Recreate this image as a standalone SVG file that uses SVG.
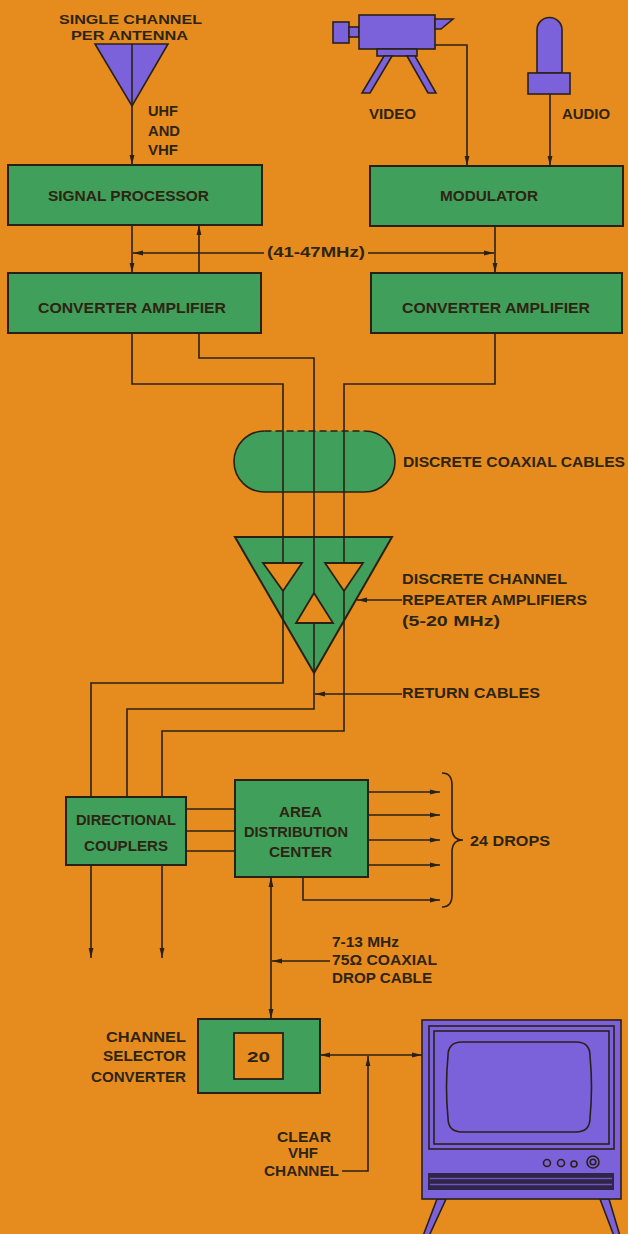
<svg xmlns="http://www.w3.org/2000/svg" width="628" height="1234" viewBox="0 0 628 1234">
  <defs>
    <style>
      .bg { fill: #E68C1E; }
      .box { fill: #409F5A; stroke: #2A2116; stroke-width: 2; }
      .pur { fill: #7C62DA; stroke: #2A2116; stroke-width: 1.6; }
      .hole { fill: #E68C1E; stroke: #2A2116; stroke-width: 1.8; }
      .ln { fill: none; stroke: #2A2116; stroke-width: 1.6; }
      .t { font-family: "Liberation Sans", Arial, sans-serif; font-weight: bold; font-size: 15px; fill: #2E2414; }
      .sm { font-size: 13px; }
      .e { marker-end: url(#ah); }
      .s { marker-start: url(#ah); }
    </style>
    <marker id="ah" viewBox="0 0 10 6" refX="10" refY="3" markerWidth="10" markerHeight="6" markerUnits="userSpaceOnUse" orient="auto-start-reverse">
      <path d="M0,0.6 L10,3 L0,5.4 z" fill="#2A2116"/>
    </marker>
  </defs>

  <rect class="bg" x="0" y="0" width="628" height="1234"/>

  <!-- sources -->
  <g id="antenna">
    <polygon class="pur" points="95,44 168,44 132,106"/>
    <line class="ln" x1="132" y1="44" x2="132" y2="106"/>
    <text class="t sm" x="59" y="24" textLength="143" lengthAdjust="spacingAndGlyphs">SINGLE CHANNEL</text>
    <text class="t sm" x="71" y="40" textLength="117" lengthAdjust="spacingAndGlyphs">PER ANTENNA</text>
    <text class="t" x="148" y="116" textLength="30" lengthAdjust="spacingAndGlyphs">UHF</text>
    <text class="t" x="148" y="136" textLength="32" lengthAdjust="spacingAndGlyphs">AND</text>
    <text class="t" x="148" y="155" textLength="30" lengthAdjust="spacingAndGlyphs">VHF</text>
  </g>

  <g id="camera">
    <rect class="pur" x="333" y="22" width="16" height="21"/>
    <rect class="pur" x="349" y="27" width="10" height="10"/>
    <rect class="pur" x="359" y="15" width="76" height="34"/>
    <polygon class="pur" points="435,19 453,19 441,29 435,29"/>
    <rect class="pur" x="377" y="49" width="40" height="7"/>
    <polygon class="pur" points="384,56 392,56 370,93 362,93"/>
    <polygon class="pur" points="407,56 415,56 436,93 428,93"/>
    <text class="t" x="369" y="119" textLength="47" lengthAdjust="spacingAndGlyphs">VIDEO</text>
  </g>

  <g id="microphone">
    <path class="pur" d="M537 73 V30 A12.5 12.5 0 0 1 562 30 V73 Z"/>
    <rect class="pur" x="528" y="73" width="42" height="21"/>
    <text class="t" x="562" y="119" textLength="48" lengthAdjust="spacingAndGlyphs">AUDIO</text>
  </g>

  <g id="signal-processor">
    <rect class="box" x="8" y="165" width="254" height="60"/>
    <text class="t" x="48" y="201" textLength="161" lengthAdjust="spacingAndGlyphs">SIGNAL PROCESSOR</text>
  </g>

  <g id="modulator">
    <rect class="box" x="370" y="166" width="253" height="60"/>
    <text class="t" x="440" y="201" textLength="98" lengthAdjust="spacingAndGlyphs">MODULATOR</text>
  </g>

  <g id="converter-left">
    <rect class="box" x="8" y="273" width="253" height="60"/>
    <text class="t" x="38" y="313" textLength="188" lengthAdjust="spacingAndGlyphs">CONVERTER AMPLIFIER</text>
  </g>

  <g id="converter-right">
    <rect class="box" x="371" y="273" width="251" height="60"/>
    <text class="t" x="402" y="313" textLength="188" lengthAdjust="spacingAndGlyphs">CONVERTER AMPLIFIER</text>
  </g>

  <g id="coaxial-cables">
    <rect x="234" y="431" width="161" height="61" rx="30.5" fill="#409F5A"/>
    <path class="ln" stroke-width="2" d="M264.5 431 A30.5 30.5 0 0 0 264.5 492 H364.5 A30.5 30.5 0 0 0 364.5 431"/>
    <path class="ln" stroke-width="2" stroke-dasharray="7 4" d="M264.5 431 H364.5"/>
    <text class="t" x="403" y="467" textLength="222" lengthAdjust="spacingAndGlyphs">DISCRETE COAXIAL CABLES</text>
  </g>

  <g id="repeater-amplifiers">
    <polygon class="box" points="235,537 392,537 314,673"/>
    <text class="t" x="402" y="584" textLength="165" lengthAdjust="spacingAndGlyphs">DISCRETE CHANNEL</text>
    <text class="t" x="402" y="605" textLength="185" lengthAdjust="spacingAndGlyphs">REPEATER AMPLIFIERS</text>
    <text class="t" x="402" y="626" textLength="98" lengthAdjust="spacingAndGlyphs">(5-20 MHz)</text>
    <text class="t" x="402" y="698" textLength="138" lengthAdjust="spacingAndGlyphs">RETURN CABLES</text>
  </g>

  <g id="directional-couplers">
    <rect class="box" x="66" y="797" width="120" height="68"/>
    <text class="t" x="76" y="825" textLength="100" lengthAdjust="spacingAndGlyphs">DIRECTIONAL</text>
    <text class="t" x="84" y="851" textLength="84" lengthAdjust="spacingAndGlyphs">COUPLERS</text>
  </g>

  <g id="distribution-center">
    <rect class="box" x="235" y="780" width="133" height="97"/>
    <text class="t" x="279" y="817" textLength="43" lengthAdjust="spacingAndGlyphs">AREA</text>
    <text class="t" x="244" y="837" textLength="104" lengthAdjust="spacingAndGlyphs">DISTRIBUTION</text>
    <text class="t" x="269" y="857" textLength="63" lengthAdjust="spacingAndGlyphs">CENTER</text>
  </g>

  <g id="drops">
    <path class="ln" d="M442 773 Q452 773 452 785 V828 Q452 840 463 840 Q452 840 452 852 V895 Q452 907 442 907"/>
    <text class="t" x="470" y="846" textLength="80" lengthAdjust="spacingAndGlyphs">24 DROPS</text>
  </g>

  <g id="channel-selector">
    <rect class="box" x="198" y="1019" width="122" height="74"/>
    <rect class="hole" x="234" y="1033" width="49" height="46"/>
    <text class="t" x="247" y="1062" textLength="23" lengthAdjust="spacingAndGlyphs">20</text>
    <text class="t" x="106" y="1042" textLength="80" lengthAdjust="spacingAndGlyphs">CHANNEL</text>
    <text class="t" x="103" y="1061" textLength="83" lengthAdjust="spacingAndGlyphs">SELECTOR</text>
    <text class="t" x="91" y="1082" textLength="95" lengthAdjust="spacingAndGlyphs">CONVERTER</text>
  </g>

  <g id="drop-cable-label">
    <text class="t" x="332" y="947" textLength="67" lengthAdjust="spacingAndGlyphs">7-13 MHz</text>
    <text class="t" x="332" y="965" textLength="105" lengthAdjust="spacingAndGlyphs">75Ω COAXIAL</text>
    <text class="t" x="332" y="983" textLength="100" lengthAdjust="spacingAndGlyphs">DROP CABLE</text>
  </g>

  <g id="clear-vhf-label">
    <text class="t" x="277" y="1142" textLength="54" lengthAdjust="spacingAndGlyphs">CLEAR</text>
    <text class="t" x="288" y="1158" textLength="30" lengthAdjust="spacingAndGlyphs">VHF</text>
    <text class="t" x="264" y="1176" textLength="75" lengthAdjust="spacingAndGlyphs">CHANNEL</text>
  </g>

  <g id="television">
    <polygon class="pur" points="437,1199 446,1199 429,1236 423,1236"/>
    <polygon class="pur" points="600,1199 609,1199 620,1236 614,1236"/>
    <rect class="pur" x="422" y="1020" width="199" height="179" stroke-width="2"/>
    <rect class="ln" x="429" y="1026" width="185" height="123"/>
    <rect class="ln" x="434" y="1031" width="175" height="113"/>
    <path class="ln" d="M462 1042 H576 Q590 1042 590 1056 Q593 1087 590 1118 Q590 1132 576 1132 H462 Q448 1132 448 1118 Q445 1087 448 1056 Q448 1042 462 1042 Z"/>
    <circle class="ln" cx="547" cy="1163" r="3.5"/>
    <circle class="ln" cx="561" cy="1163" r="3.5"/>
    <circle class="ln" cx="574" cy="1164" r="3"/>
    <circle class="ln" cx="593" cy="1162" r="6"/>
    <circle class="ln" cx="593" cy="1162" r="2.8"/>
    <rect x="428" y="1173" width="186" height="17" fill="#2F2545"/>
    <line x1="430" y1="1178.5" x2="612" y2="1178.5" stroke="#6C55C4" stroke-width="1.5"/>
    <line x1="430" y1="1184.5" x2="612" y2="1184.5" stroke="#6C55C4" stroke-width="1.5"/>
  </g>

  <!-- signal paths -->
  <g id="connectors">
    <path class="ln e" d="M132 106 V165"/>
    <path class="ln e" d="M435 45 H467 V166"/>
    <path class="ln e" d="M550 94 V166"/>
    <path class="ln e" d="M132 225 V273"/>
    <path class="ln e" d="M199 273 V225"/>
    <path class="ln e" d="M495 226 V273"/>
    <path class="ln s" d="M133 253 H264"/>
    <path class="ln e" d="M368 253 H494"/>
    <text class="t" x="267" y="257" textLength="98" lengthAdjust="spacingAndGlyphs">(41-47MHz)</text>
    <path class="ln" d="M132 333 V384 H283 V683 H91 V797"/>
    <path class="ln" d="M199 333 V358 H314 V709 H127 V797"/>
    <path class="ln" d="M495 333 V384 H344 V731 H162 V797"/>
    <path class="ln e" d="M402 600 H357"/>
    <path class="ln e" d="M402 694 H315"/>
    <path class="ln" d="M186 809 H235 M186 831 H235 M186 851 H235"/>
    <path class="ln e" d="M368 792 H440"/>
    <path class="ln e" d="M368 815 H440"/>
    <path class="ln e" d="M368 840 H440"/>
    <path class="ln e" d="M368 865 H440"/>
    <path class="ln e" d="M303 877 V900 H440"/>
    <path class="ln e" d="M91 865 V958"/>
    <path class="ln e" d="M162 865 V958"/>
    <path class="ln s e" d="M271 877 V1019"/>
    <path class="ln e" d="M330 961 H272"/>
    <path class="ln s e" d="M320 1055 H422"/>
    <path class="ln e" d="M342 1171 H368 V1056"/>
  </g>

  <!-- amplifier cells sit over the cable runs -->
  <g id="amplifier-cells">
    <polygon class="hole" points="263,563 302,563 283,591"/>
    <polygon class="hole" points="325,563 363,563 344,591"/>
    <polygon class="hole" points="314,593 333,623 296,623"/>
  </g>
</svg>
